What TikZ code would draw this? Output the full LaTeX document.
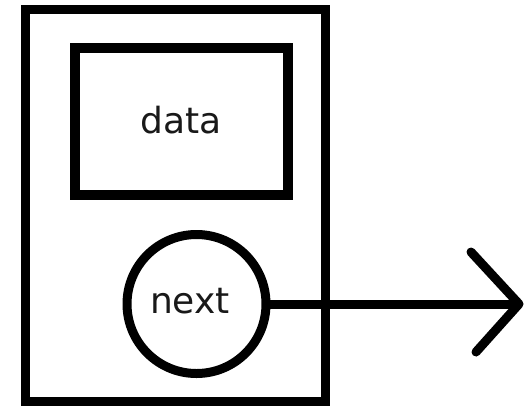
\documentclass[tikz,border=0pt]{standalone}
\usepackage{fontspec}
\setmainfont{DejaVu Sans}
\begin{document}
\begin{tikzpicture}[x=1pt,y=1pt,
  frame/.style={draw=black, line width=9pt, inner sep=0pt, outer sep=0pt},
  lbl/.style={font=\fontsize{36}{40}\selectfont, text=black!90, inner sep=0pt, anchor=base},
  conn/.style={draw=black, line width=9pt, line cap=round, line join=round}]
\useasboundingbox (0,0) rectangle (524,-405);
% outer box
\node[frame, rectangle, minimum width=299.5pt, minimum height=391.8pt] (outer) at (175.25,-205.6) {};
% data box
\node[frame, rectangle, line width=10pt, minimum width=213pt, minimum height=147.3pt] (databox) at (181.5,-121.4) {};
\node[lbl] (datatxt) at (181,-133) {data};
% next circle
\node[frame, circle, minimum size=139pt] (nextc) at (196.5,-304) {};
\node[lbl] (nexttxt) at (190,-313) {next};
% arrow
\coordinate (tip) at (519,-304);
\coordinate (hu) at (471,-252);
\coordinate (hl) at (476,-352);
\draw[conn, line cap=butt] (nextc.east) -- (tip);
\draw[conn] (hu) -- (tip) -- (hl);
\end{tikzpicture}
\end{document}
